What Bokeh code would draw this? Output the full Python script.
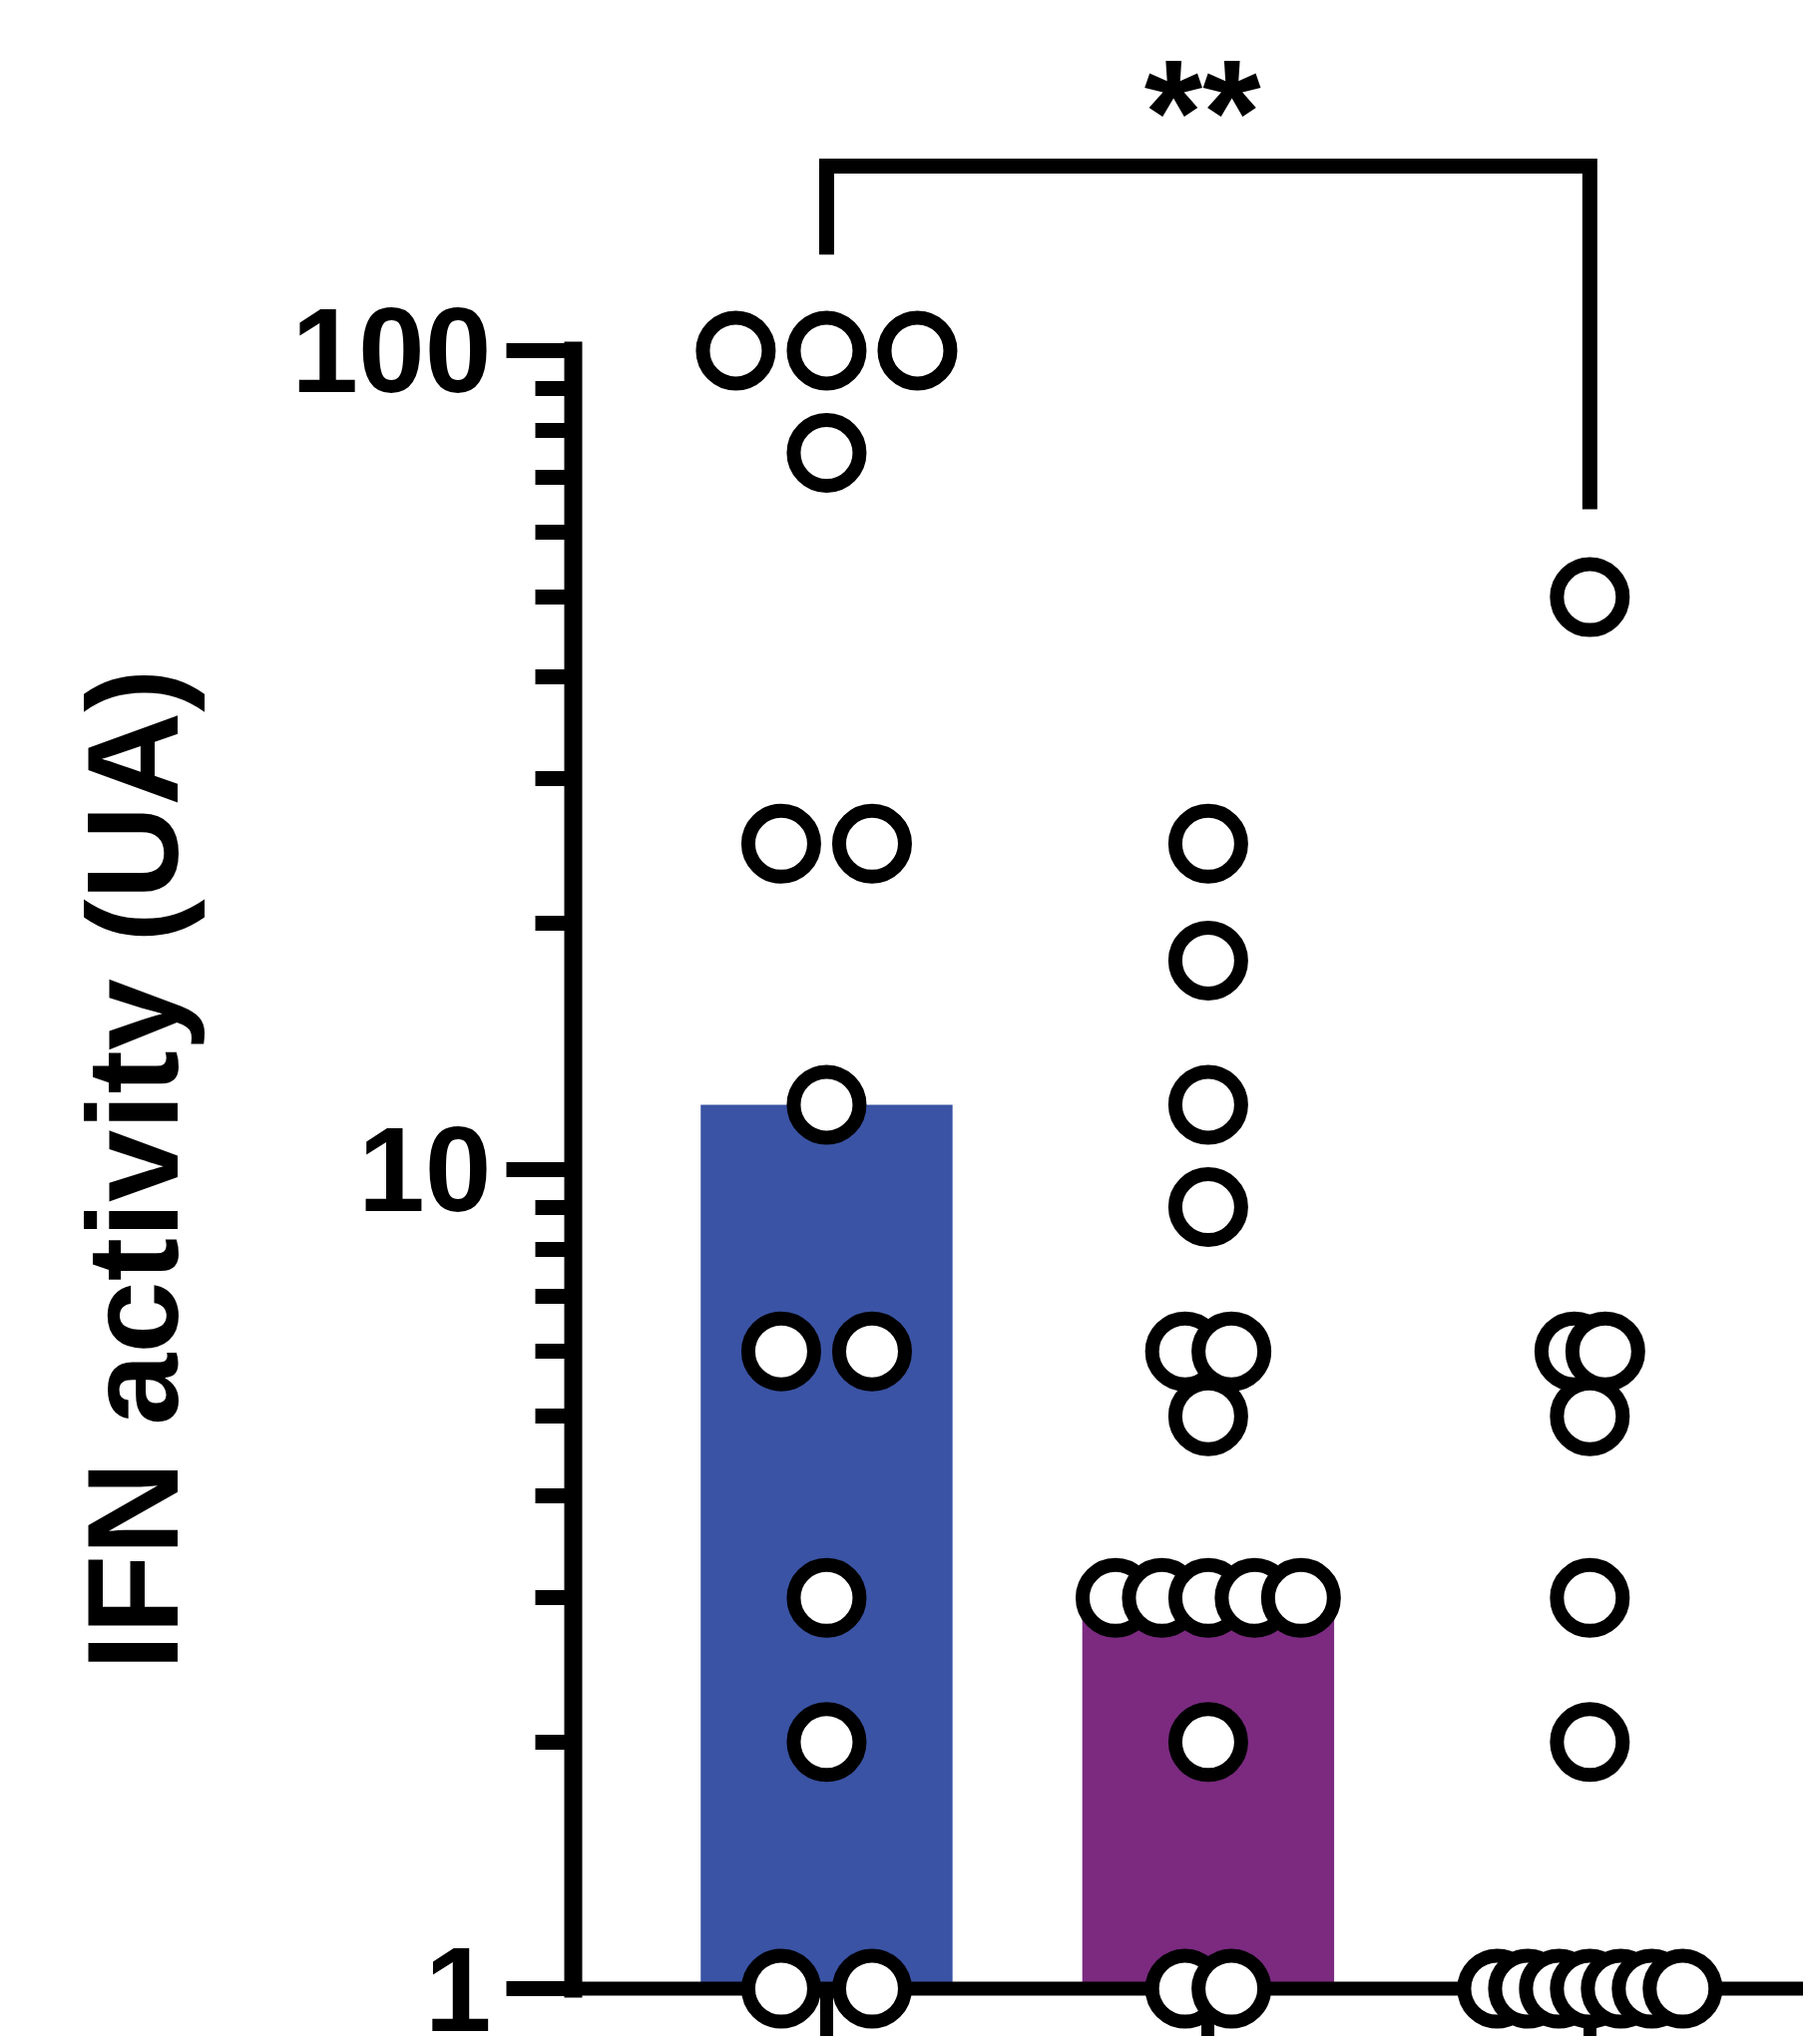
import numpy as np
from bokeh.plotting import figure
from bokeh.layouts import row
from bokeh.models import Range1d, LogTicker, FixedTicker, PrintfTickFormatter, CustomJSTickFormatter
from bokeh.core.properties import value
from bokeh.embed import file_html
from bokeh.resources import INLINE

# ---------------- data ----------------
categories = ["Group 1", "Group 2", "Group 3"]
group1 = [100, 100, 100, 75, 25, 25, 12, 6, 6, 3, 2, 1, 1]
group2 = [25, 18, 12, 9, 6, 6, 5, 3, 3, 3, 3, 3, 2, 1, 1]
group3 = [50, 6, 6, 5, 3, 2, 1, 1, 1, 1, 1, 1, 1]
groups = [group1, group2, group3]
bar_colors = ["#3A53A4", "#7B2A80", "#8C8C8C"]
y_tick_values = [1, 10, 100]
y_label = "IFN activity (UA)"
signif_text = "**"
signif_pair = (0, 2)

# ---------------- style ----------------
FONT = "Liberation Sans"
DOT_STEP = 0.238      # spacing of tied points (x units)
MAX_SPREAD = 0.486    # widest spread of a row of tied points (x units)
BAR_WIDTH = 0.66
LABEL_W = 240
TOTAL_H = 2041
BOTTOM = 48

y_range = Range1d(1, 267.6)

# narrow panel holding the y axis title
lab = figure(width=LABEL_W, height=TOTAL_H, y_axis_type="log",
             x_range=Range1d(0, LABEL_W), y_range=y_range,
             output_backend="svg", toolbar_location=None,
             min_border_left=0, min_border_right=0,
             min_border_top=0, min_border_bottom=BOTTOM)
lab.axis.visible = False
lab.grid.visible = False
lab.outline_line_color = None
lab.text(x=[132], y=[float(np.sqrt(y_tick_values[0] * y_tick_values[-1]))],
         text=[y_label], angle=np.pi / 2,
         text_font=value(FONT), text_font_style="bold", text_font_size="130px",
         text_align="center", text_baseline="middle", text_color="black")

p = figure(width=1807 - LABEL_W, height=TOTAL_H, y_axis_type="log",
           x_range=Range1d(0.336, 3.56), y_range=y_range,
           output_backend="svg", toolbar_location=None,
           min_border_left=574 - LABEL_W, min_border_right=0,
           min_border_top=0, min_border_bottom=BOTTOM)
p.outline_line_color = None
p.xgrid.visible = False
p.ygrid.visible = False
p.background_fill_color = "white"
p.border_fill_color = "white"

# bars: median of each group
xs = [i + 1 for i in range(len(categories))]
medians = [float(np.median(g)) for g in groups]
p.vbar(x=xs, top=medians, bottom=1, width=BAR_WIDTH,
       fill_color=bar_colors, line_color=None)

# points with simple tie spreading
px, py = [], []
for i, g in enumerate(groups):
    vals, counts = np.unique(g, return_counts=True)
    m = counts.max()
    step = DOT_STEP if m <= 1 else min(DOT_STEP, MAX_SPREAD / (m - 1))
    for v, n in zip(vals, counts):
        for k in range(n):
            px.append(xs[i] + (k - (n - 1) / 2) * step)
            py.append(v)
p.scatter(px, py, marker="circle", size=66, fill_color="white",
          line_color="black", line_width=14, level="overlay")

# significance bracket
a, b = signif_pair
top_all = max(max(groups[a]), max(groups[b]))
br_top = top_all * 1.68
p.line(x=[xs[a], xs[a], xs[b], xs[b]],
       y=[max(groups[a]) * 1.31, br_top, br_top, max(groups[b]) * 1.28],
       line_width=15, line_color="black", line_join="miter", line_cap="butt",
       level="overlay")
p.text(x=[(xs[a] + xs[b]) / 2 - 0.015], y=[br_top * 1.163], text=[signif_text],
       text_font=value(FONT), text_font_style="bold", text_font_size="150px",
       text_align="center", text_baseline="middle", text_color="black")

# y axis
ya = p.yaxis[0]
ya.ticker = LogTicker(num_minor_ticks=10)
ya.formatter = PrintfTickFormatter(format="%d")
ya.bounds = (y_tick_values[0], y_tick_values[-1])
ya.axis_line_width = 18
ya.axis_line_color = "black"
ya.axis_line_cap = "square"
ya.major_tick_line_width = 15
ya.minor_tick_line_width = 15
ya.major_tick_out = 67
ya.major_tick_in = 0
ya.minor_tick_out = 38
ya.minor_tick_in = 0
ya.major_label_standoff = 15
ya.major_label_text_font = FONT
ya.major_label_text_font_style = "bold"
ya.major_label_text_font_size = "120px"
ya.major_label_text_color = "black"

# x axis
xa = p.xaxis[0]
xa.ticker = FixedTicker(ticks=xs, minor_ticks=[])
xa.axis_line_width = 14
xa.axis_line_color = "black"
xa.major_tick_line_width = 13
xa.major_tick_out = 48
xa.major_tick_in = 0
xa.minor_tick_out = 0
xa.major_label_standoff = 0
xa.formatter = CustomJSTickFormatter(code="return ''")
xa.major_label_text_font_size = "1px"

layout = row(lab, p, spacing=0)
open("out.html", "w").write(file_html(layout, INLINE))
